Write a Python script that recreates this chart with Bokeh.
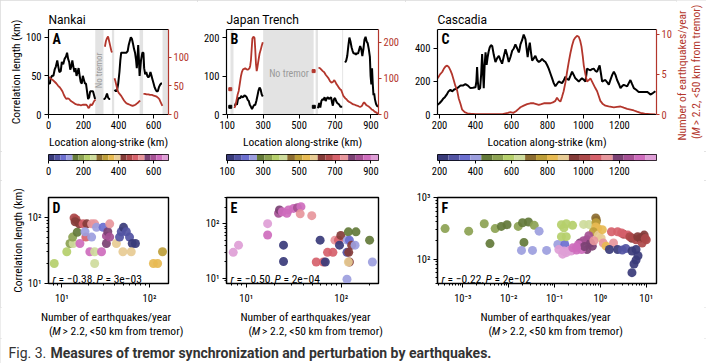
import math
import numpy as np
from bokeh.plotting import figure
from bokeh.models import (Range1d, LinearAxis, FixedTicker, BoxAnnotation, Label, Title,
                          LinearColorMapper, ColumnDataSource, CustomJSTickFormatter)
from bokeh.layouts import row, column
from bokeh.palettes import Category20b_20
from bokeh.embed import file_html
from bokeh.resources import INLINE

N = float("nan")

# ------------------------------------------------------------------ data
region_titles = ["Nankai", "Japan Trench", "Cascadia"]
panel_letters = ["A", "B", "C", "D", "E", "F"]

# Nankai (panel A)
nk_corr_km = [0, 8, 12, 20, 28, 35, 42, 50, 56, 62, 70, 76, 84, 92, 100, 106, 112, 118, 124, 130,
              136, 142, 148, 154, 160, 166, 172, 178, 184, 190, 196, 202, 208, 214, 220, 226, 232, 238,
              246, 254, 260, 266, N,
              314, 320, 326, 334, 340, 346, 352, N,
              377, 385, 392, 398, 405, 410, 415, 425, 435, 445, 452, 458, 464, 470, 476, 482, 488, 494,
              500, 504, 508, 512, 516, 520, 528, 536, 542, 546, 552, 558, 564, 570, 576, 582, 588, 594,
              600, 606, 612, 618, 624, 630, 636, 642, 648]
nk_corr = [40, 40, 47, 50, 50, 58, 62, 70, 62, 55, 56, 68, 65, 72, 75, 80, 72, 68, 58, 62,
           70, 62, 55, 60, 50, 55, 60, 50, 42, 40, 50, 45, 40, 40, 30, 20, 22, 30,
           30, 30, 25, 20, N,
           20, 20, 22, 27, 22, 20, 20, N,
           32, 30, 32, 40, 55, 70, 80, 80, 80, 80, 82, 90, 95, 100, 98, 92, 85, 80,
           70, 60, 72, 90, 72, 50, 70, 80, 80, 60, 52, 55, 50, 48, 50, 55, 50, 45,
           40, 35, 32, 30, 30, 35, 38, 40, 40]
nk_eq_km = [0, 8, 15, 25, 35, 45, 55, 65, 72, 80, 88, 95, 102, 110, 118, 126, 135, 145, 155, 165,
            175, 185, 195, 205, 215, 222, 228, 234, 240, 246, 252, 258, 264, 270, N,
            322, 328, 334, 340, 346, 352, 358, 362, N,
            377, 382, 388, 394, 400, 408, 416, 424, 432, 440, 448, 456, 464, 472, 480, 488, 496,
            504, 512, 518, 524, N,
            542, 550, 560, 570, 580, 590, 600, 610, 618, 626, 632, 638, 644, 650]
nk_eq = [65, 64, 62, 60, 57, 54, 50, 47, 44, 40, 34, 30, 27, 28, 27, 24, 22, 20, 18, 17,
         17, 16, 17, 17, 17, 15, 11, 13, 18, 16, 18, 22, 25, 25, N,
         118, 128, 133, 136, 128, 120, 112, 108, N,
         63, 58, 50, 42, 38, 35, 32, 28, 24, 21, 19, 18, 17, 16, 15, 16, 17,
         19, 21, 23, 24, N,
         36, 36, 35, 35, 34, 34, 33, 32, 31, 29, 27, 23, 19, 15]
nk_gaps = [(267, 314), (362, 375), (520, 540), (651, 690)]

# Japan Trench (panel B)
jt_corr_km = [142, 148, 154, 160, 166, 172, 178, 184, 190, 196, 202, 208, 214, 220, 226, 232, 238,
              244, 250, 256, 262, 268, 274, 280, 286, 292, 298, N,
              605, 612, 618, 624, 630, 636, 642, 648, 654, 660, 666, 672, 678, 684, 688, 694, 700,
              706, 712, 718, 724, 730, 736, 740, N,
              756, 762, 768, 774, 780, 786, 792, 798, 804, 810, 816, 822, 828, 834, 840, 846, 852,
              858, 864, 870, 876, 882, 888, 894, 898, 902, 906, 910, 914, 918, 922, 928, 934, 940]
jt_corr = [22, 30, 25, 40, 43, 42, 48, 45, 46, 50, 48, 45, 38, 35, 25, 20, 14,
           20, 25, 25, 35, 48, 62, 70, 65, 52, 47, N,
           16, 30, 18, 35, 40, 38, 45, 35, 42, 45, 40, 43, 45, 30, 23, 40, 43,
           35, 30, 28, 25, 20, 20, 20, N,
           135, 140, 152, 178, 200, 190, 175, 165, 158, 160, 155, 160, 158, 168, 178, 170, 152,
           170, 195, 202, 190, 185, 170, 150, 100, 78, 120, 80, 50, 55, 40, 28, 22, 20]
jt_eq_km = [140, 146, 152, 158, 164, 170, 176, 182, 188, 194, 200, 206, 212, 218, 224, 228, 232,
            236, 240, 246, 252, 256, 260, 264, 268, 274, 280, 286, 292, 298, N,
            608, 616, 624, 632, 640, 648, 656, 664, 672, 680, 688, 696, 702, 708, 714, 720, 728,
            734, 740, 746, 752, 758, 764, 770, 778, 786, 794, 802, 810, 818, 826, 834, 842, 850,
            856, 862, 868, 874, 880, 888, 896, 904, 912, 920, 928, 936, 942]
jt_eq = [18, 25, 40, 55, 65, 85, 105, 118, 125, 126, 128, 126, 124, 125, 128, 135, 150,
         180, 210, 215, 212, 180, 140, 120, 130, 150, 168, 178, 190, 200, N,
         130, 128, 124, 120, 117, 110, 105, 100, 92, 88, 90, 95, 90, 84, 80, 75, 70,
         68, 60, 52, 48, 44, 42, 38, 35, 33, 30, 28, 27, 25, 24, 22, 21, 24,
         30, 34, 30, 26, 24, 22, 18, 14, 12, 8, 6, 3, 2]
jt_corr_dot_km = [117, 582]
jt_corr_dot = [20, 20]
jt_eq_dot_km = [117, 581]
jt_eq_dot = [70, 120]
jt_gaps = [(118, 135), (300, 581), (592, 605), (740, 745)]

# Cascadia (panel C)
cs_corr_km = [190, 200, 210, 220, 230, 240, 250, 261, 270, 280, 290, 300, 317, 330, 344, 358, 372,
              386, 400, 405, 409, 413, 418, 426, 432, 437, 442, 446, 451, 456, 462, 468, 473, 479,
              486, 493, 502, 511, 520, 530, 539, 548, 557, 567, 576, 585, 595, 604, 613, 622, 632,
              641, 646, 650, 659, 668, 673, 678, 684, 690, 696, 702, 708, 715, 724, 733, 742, 752,
              761, 770, 780, 789, 798, 807, 816, 826, 835, 844, 853, 863, 872, 881, 890, 900, 909,
              918, 928, 937, 946, 955, 964, 974, 983, 992, 1002, 1011, 1016, 1020, 1030, 1039,
              1048, 1057, 1066, 1076, 1083, 1090, 1097, 1104, 1113, 1122, 1132, 1141, 1150, 1160,
              1169, 1178, 1187, 1197, 1206, 1215, 1224, 1234, 1243, 1252, 1261, 1270, 1280, 1293,
              1307, 1320, 1335, 1354, 1363, 1372, 1386, 1400]
cs_corr = [59, 68, 80, 95, 105, 120, 140, 150, 140, 150, 155, 160, 176, 175, 184, 175, 160,
           162, 165, 200, 288, 200, 151, 160, 250, 366, 250, 160, 300, 376, 300, 350, 380, 406,
           420, 415, 360, 318, 340, 356, 330, 308, 350, 396, 360, 318, 350, 386, 400, 425, 400,
           376, 400, 425, 450, 484, 470, 455, 400, 347, 400, 435, 380, 327, 340, 356, 330, 318,
           325, 337, 325, 318, 300, 278, 250, 219, 190, 171, 185, 200, 195, 190, 205, 229, 215,
           209, 235, 259, 240, 219, 210, 200, 210, 219, 210, 200, 240, 278, 272, 268,
           275, 278, 265, 259, 280, 298, 250, 200, 205, 209, 195, 180, 210, 240,
           259, 240, 209, 185, 160, 172, 180, 175, 171, 190, 209, 185, 160, 150,
           137, 137, 137, 137, 130, 121, 130, 141]
cs_eq_km = [190, 203, 215, 224, 234, 243, 252, 261, 270, 279, 288, 298, 307, 317, 326, 340, 355,
            372, 400, 450, 500, 550, 580, 594, 610, 625, 640, 650, 668, 687, 705, 724, 738, 752,
            766, 780, 798, 817, 830, 844, 853, 862, 872, 881, 890, 900, 909, 918, 928, 937, 946,
            955, 964, 974, 982, 989, 996, 1002, 1011, 1020, 1030, 1039, 1048, 1057, 1066, 1076,
            1085, 1094, 1108, 1122, 1140, 1155, 1169, 1187, 1206, 1224, 1243, 1262, 1280, 1298,
            1317, 1340, 1370, 1400]
cs_eq = [4.5, 5.0, 5.3, 5.7, 6.0, 6.1, 5.9, 5.5, 5.0, 4.3, 3.6, 3.0, 2.0, 1.3, 0.6, 0.3, 0.15,
         0.1, 0.05, 0.05, 0.05, 0.05, 0.2, 0.3, 0.2, 0.4, 0.7, 0.9, 1.1, 1.3, 1.4, 1.4, 1.3, 1.2,
         1.3, 1.4, 1.4, 1.4, 1.5, 1.7, 2.1, 1.8, 1.6, 2.2, 2.9, 4.0, 5.3, 6.5, 7.7, 8.6, 9.3,
         9.6, 9.8, 9.7, 9.2, 8.5, 7.3, 6.1, 5.0, 4.1, 4.3, 4.5, 4.1, 3.7, 3.3, 2.9,
         2.3, 1.7, 1.3, 1.1, 1.0, 0.95, 0.9, 0.95, 1.0, 0.85, 0.7, 0.6, 0.5, 0.35,
         0.2, 0.1, 0.05, 0.0]

# scatter panels: earthquake rate, correlation length, location (colour)
nk_rate = [8.2, 11.4, 12.4, 13.5, 13.3, 15.0, 16.1, 13.8, 14.5, 14.2, 15.8, 17.5, 19.3, 21.9, 23.7,
           18.8, 21.9, 18.4, 20.9, 23.7, 23.7, 28.4, 24.9, 29.6, 32.3, 33.5, 32.3, 35.2, 35.2, 42,
           45.6, 47.7, 50.6, 54.5, 59.3, 63.6, 69.2, 49.8, 62, 111, 124, 141]
nk_len = [20, 30, 40, 40, 50, 59, 40, 97, 92, 85, 79, 79, 79, 79, 79, 50, 50, 60, 30, 30, 20, 30,
          70, 70, 52, 60, 40, 79, 50, 40, 50, 60, 70, 60, 50, 40, 40, 30, 30, 20, 20, 30]
nk_loc = [223, 223, 188, 257, 188, 154, 634, 462, 462, 428, 428, 497, 428, 531, 531, 497, 120, 120,
          634, 257, 257, 634, 120, 86, 599, 565, 565, 531, 599, 394, 51, 51, 17, 51, 51, 17, 17,
          394, 394, 360, 360, 325]

jt_rate = [7.3, 8.3, 16.8, 16.8, 21.9, 22.4, 24, 26.8, 27.9, 31.5, 34.6, 37.7, 37, 49, 24.7, 24.7,
           60, 54.6, 65, 68, 71.8, 81.8, 86, 93.6, 99, 96, 116, 119, 122, 129, 140, 143, 115, 120,
           122, 119, 115, 199, 213]
jt_len = [30, 40.5, 62, 100, 155, 178, 165, 155, 178, 190, 195, 204, 151, 140, 40.5, 20.4, 50, 20,
          20, 20, 30, 30, 50, 50, 61, 40.5, 50, 71, 50, 40.5, 40.5, 71, 30, 30, 20, 20, 9.7, 50, 20]
jt_loc = [924, 924, 881, 924, 839, 797, 881, 881, 881, 881, 839, 881, 755, 755, 121, 121, 121, 712,
          712, 121, 712, 712, 755, 712, 628, 121, 248, 290, 206, 628, 248, 290, 163, 628, 628, 586,
          248, 290, 248]

cs_rate = [4.1e-4, 1.34e-3, 2.93e-3, 3.9e-3, 5.06e-3, 6.9e-3, 9.2e-3, 0.0161, 0.02, 0.027, 0.036,
           0.0215, 0.019, 0.033, 0.046, 0.067, 0.118, 0.167, 0.141, 0.16, 0.18, 0.247, 0.141, 0.18,
           0.18, 0.15, 0.23, 0.30,
           0.43, 0.56, 0.79, 0.82, 0.80, 0.79, 0.87, 0.70, 0.90, 1.04, 1.15, 1.33, 1.74, 2.37, 3.23,
           3.97, 4.87, 5.98, 7.35, 9.0, 10, 8.1, 1.93, 1.57, 2.37, 3.58, 4.87, 5.98, 6.6, 5.98, 5.4,
           4.87, 0.358, 0.43, 0.51, 0.61, 0.51, 0.39, 0.665, 0.124, 0.161, 0.21, 0.25, 0.33, 0.56,
           0.72, 2.9, 4.4, 6.5, 8.5, 9.5, 0.45, 0.30, 3.0, 1.1]
cs_len = [312, 284, 374, 178, 312, 339, 361, 339, 388, 400, 353, 186, 138, 138, 284, 138, 172, 172,
          361, 320, 375, 353, 231, 231, 127, 120, 135, 140,
          365, 365, 464, 422, 388, 331, 313, 277, 245, 218, 182, 162, 277, 277, 252, 245, 218, 205,
          218, 245, 205, 182, 182, 143, 143, 148, 135, 143, 113, 96, 83, 60, 182, 198, 205, 182,
          143, 143, 162, 143, 135, 138, 152, 171, 240, 198, 265, 230, 230, 225, 215, 160, 155, 140,
          300]
cs_loc = [531, 531, 531, 471, 531, 471, 471, 531, 471, 471, 531, 471, 411, 411, 411, 411, 411, 351,
          592, 592, 592, 592, 592, 592, 1375, 1375, 1375, 1314,
          652, 652, 712, 712, 772, 833, 833, 772, 893, 893, 1134, 833, 1073, 1073, 1013, 1073, 953,
          1013, 953, 953, 1013, 1013, 1134, 230, 230, 290, 230, 230, 230, 230, 230, 230, 1194,
          1254, 1254, 1194, 1194, 1314, 1194, 1375, 1375, 1375, 1314, 1314, 1254, 1134, 1073, 1013,
          953, 953, 1013, 1194, 1314, 290, 833]

stats_r = ["= \u22120.38,", "= \u22120.50,", "= \u22120.22,"]
stats_p = ["= 3e\u221203", "= 2e\u221204", "= 2e\u221202"]
eq_title_1 = "Number of earthquakes/year"
eq_title_2 = ["(", "M", "> 2.2, <50 km from tremor)"]

# ------------------------------------------------------------------ styling helpers
NARROW = "Liberation Sans Narrow, Roboto Condensed, Arial Narrow, sans-serif"
PLAIN = "Roboto, Liberation Sans, sans-serif"
RED = "#b3362c"
BAND = "#e3e3e3"
PALETTE = list(Category20b_20)
TOP_COLS = [(197, 48, 29), (208, 29, 27), (271, 32, 20)]
LOW_COLS = [(197, 48, 29), (208, 29, 27), (301, 32, 50)]
TITLE_SIZE = "11.5px"

SUP_JS = """
const digits = "\u2070\u00b9\u00b2\u00b3\u2074\u2075\u2076\u2077\u2078\u2079";
const e = Math.round(Math.log10(tick));
let s = "";
for (const c of String(Math.abs(e))) { s += digits[parseInt(c)]; }
return "10" + (e < 0 ? "\u207b" : "") + s;
"""


def new_fig(col, h, bt, bb, **kw):
    w, bl, br = col
    p = figure(width=w, height=h, min_border_left=bl, min_border_right=br,
               min_border_top=bt, min_border_bottom=bb, title=None,
               toolbar_location=None, tools="", output_backend="svg", **kw)
    p.grid.visible = False
    p.background_fill_color = "white"
    p.border_fill_color = "white"
    return p


def text_strip(w, h):
    p = figure(width=w, height=h, min_border=0, x_range=Range1d(0, 1), y_range=Range1d(0, 1),
               x_axis_location=None, y_axis_location=None, title=None,
               toolbar_location=None, tools="", output_backend="svg")
    p.outline_line_color = None
    p.grid.visible = False
    p.background_fill_color = "white"
    p.border_fill_color = "white"
    return p


def style_axis(ax, color="black", tick_out=4, standoff=2):
    ax.axis_line_color = color
    ax.axis_line_width = 1.2
    ax.major_tick_line_color = color
    ax.minor_tick_line_color = color
    ax.major_tick_out = tick_out
    ax.major_tick_in = 0
    ax.minor_tick_out = 2 if tick_out else 0
    ax.minor_tick_in = 0
    ax.major_label_standoff = standoff
    ax.major_label_text_font = NARROW
    ax.major_label_text_font_size = "10.5px"
    ax.major_label_text_color = color
    ax.axis_label_text_font = NARROW
    ax.axis_label_text_font_size = TITLE_SIZE
    ax.axis_label_text_font_style = "normal"
    ax.axis_label_text_color = color
    ax.axis_label_standoff = 3


def label(p, x, y, text, size=TITLE_SIZE, font=NARROW, style="normal", color="black",
          align="left", baseline="alphabetic", angle=0.0, x_units="screen"):
    p.add_layout(Label(x=x, y=y, x_units=x_units, y_units="screen", text=text,
                       text_font=font, text_font_size=size, text_font_style=style,
                       text_color=color, text_align=align, text_baseline=baseline,
                       angle=angle))


def top_panel(i, xr, yl, yr, xticks, ylticks, yrticks, gaps, bx, by, rx, ry,
              dots=None, ylabel=None):
    p = new_fig(TOP_COLS[i], 151, 29, 34, x_range=Range1d(*xr), y_range=Range1d(0, yl))
    p.title = Title(text=region_titles[i], align="left", offset=0, standoff=5,
                    text_font=PLAIN, text_font_size="12px", text_font_style="normal",
                    text_color="black")
    p.outline_line_color = None
    p.extra_y_ranges = {"eq": Range1d(0, yr)}
    for a, b in gaps:
        p.add_layout(BoxAnnotation(left=a, right=b, fill_color=BAND, fill_alpha=1.0,
                                   line_color=None, level="underlay"))
    p.line(bx, by, line_color="black", line_width=2)
    p.line(rx, ry, line_color=RED, line_width=1.8, y_range_name="eq")
    if dots:
        p.scatter(dots[0], dots[1], marker="square", size=3, color="black")
        p.scatter(dots[2], dots[3], marker="square", size=3, color=RED, y_range_name="eq")
    xa = p.xaxis[0]
    xa.ticker = FixedTicker(ticks=xticks, minor_ticks=[])
    xa.axis_label = "Location along-strike (km)"
    style_axis(xa)
    ya = p.yaxis[0]
    ya.ticker = FixedTicker(ticks=ylticks, minor_ticks=[])
    style_axis(ya, standoff=3)
    if ylabel:
        ya.axis_label = ylabel
        ya.axis_label_standoff = 0
    ra = LinearAxis(y_range_name="eq", ticker=FixedTicker(ticks=yrticks, minor_ticks=[]))
    style_axis(ra, RED, tick_out=3, standoff=2)
    p.add_layout(ra, "right")
    ta = LinearAxis(ticker=FixedTicker(ticks=[], minor_ticks=[]))
    style_axis(ta, tick_out=0, standoff=0)
    p.add_layout(ta, "above")
    label(p, 4, 84, panel_letters[i], size="14px", style="bold", baseline="top")
    return p


def cbar(i, xr, ticks):
    p = new_fig(LOW_COLS[i], 29, 3, 20, x_range=xr, y_range=Range1d(0, 1), y_axis_location=None)
    edges = np.linspace(xr.start, xr.end, len(PALETTE) + 1)
    p.quad(left=edges[:-1], right=edges[1:], bottom=0, top=1, fill_color=PALETTE, line_color=None)
    p.outline_line_color = "black"
    p.outline_line_width = 1
    xa = p.xaxis[0]
    xa.ticker = FixedTicker(ticks=ticks, minor_ticks=[])
    style_axis(xa, tick_out=3, standoff=3)
    xa.axis_line_color = None
    return p


def decade_ticks(lo, hi):
    majors = [10.0 ** e for e in range(lo, hi + 1)]
    minors = [m * 10.0 ** e for e in range(lo - 1, hi + 1) for m in range(2, 10)]
    return FixedTicker(ticks=majors, minor_ticks=minors)


def bottom_panel(i, xr, yr, xdec, ydec, xs, ys, locs, cmap_range, ylabel=None):
    k = i - 3
    p = new_fig(LOW_COLS[k], 127, 17, 22, x_axis_type="log", y_axis_type="log",
                x_range=Range1d(*xr), y_range=Range1d(*yr))
    p.outline_line_color = "black"
    p.outline_line_width = 1.4
    mapper = LinearColorMapper(palette=PALETTE, low=cmap_range[0], high=cmap_range[1])
    src = ColumnDataSource(dict(x=xs, y=ys, loc=locs))
    p.scatter("x", "y", source=src, size=9, line_color=None, fill_alpha=0.92,
              fill_color={"field": "loc", "transform": mapper})
    xa, ya = p.xaxis[0], p.yaxis[0]
    xa.ticker = decade_ticks(*xdec)
    ya.ticker = decade_ticks(*ydec)
    for ax in (xa, ya):
        ax.formatter = CustomJSTickFormatter(code=SUP_JS)
    style_axis(xa, standoff=4)
    style_axis(ya, standoff=3)
    if ylabel:
        ya.axis_label = ylabel
        ya.axis_label_standoff = 0
    label(p, 4, 84, panel_letters[i], size="14px", style="bold", baseline="top")
    label(p, 4, 4.5, "r", size="11.5px", style="italic")
    label(p, 10, 4.5, stats_r[k], size="11.5px")
    label(p, 48, 4.5, "P", size="11.5px", style="italic")
    label(p, 57, 4.5, stats_p[k], size="11.5px")
    return p


# ------------------------------------------------------------------ top row
pA = top_panel(0, (0, 685), 110, 148, [0, 200, 400, 600], [0, 50, 100], [0, 50, 100],
               nk_gaps, nk_corr_km, nk_corr, nk_eq_km, nk_eq, ylabel="Correlation length (km)")
label(pA, 290, 44, "No tremor", size="9px", color="#9a9a9a", align="center",
      baseline="middle", angle=math.pi / 2, x_units="data")

pB = top_panel(1, (96, 942), 221, 235, [100, 300, 500, 700, 900], [0, 100, 200], [0, 100, 200],
               jt_gaps, jt_corr_km, jt_corr, jt_eq_km, jt_eq,
               dots=(jt_corr_dot_km, jt_corr_dot, jt_eq_dot_km, jt_eq_dot))
label(pB, 444, 40.6, "No tremor", size="10px", color="#9a9a9a", align="center",
      baseline="middle", x_units="data")

pC = top_panel(2, (189, 1406), 515, 10.6, [200, 400, 600, 800, 1000, 1200], [0, 200, 400],
               [0, 5, 10], [], cs_corr_km, cs_corr, cs_eq_km, cs_eq)

# right-hand (red) title of panel C
rtitle = text_strip(30, 151)
label(rtitle, 5.2, 76, eq_title_1, color=RED, align="center", baseline="middle",
      angle=math.pi / 2)
for piece, dy, st in zip(eq_title_2, [12.5, 15.7, 26.2], ["normal", "italic", "normal"]):
    label(rtitle, 19.7, dy, piece, color=RED, style=st, baseline="middle", angle=math.pi / 2)

# ------------------------------------------------------------------ colour bars
cA = cbar(0, pA.x_range, [0, 200, 400, 600])
cB = cbar(1, pB.x_range, [100, 300, 500, 700, 900])
cC = cbar(2, pC.x_range, [200, 400, 600, 800, 1000, 1200])

# ------------------------------------------------------------------ bottom row
pD = bottom_panel(3, (7.05, 165), (10, 197), (1, 2), (1, 2), nk_rate, nk_len, nk_loc,
                  (0, 685), ylabel="Correlation length (km)")
pE = bottom_panel(4, (6.2, 247), (8.1, 300), (1, 2), (1, 2), jt_rate, jt_len, jt_loc,
                  (96, 942))
pF = bottom_panel(5, (2.8e-4, 16.7), (40, 1000), (-3, 1), (2, 3), cs_rate, cs_len, cs_loc,
                  (189, 1406))

# two-line x titles under the scatter panels
xtitles = text_strip(706, 31)
for c in [105.5, 305, 545]:
    label(xtitles, c, 21.3, eq_title_1, align="center", baseline="middle")
    s = c - 57
    for piece, dx, st in zip(eq_title_2, [0, 3.2, 13.6], ["normal", "italic", "normal"]):
        label(xtitles, s + dx, 7.8, piece, style=st, baseline="middle")

# ------------------------------------------------------------------ caption
cap = text_strip(706, 25)
label(cap, 8, 11, "Fig. 3.", size="14px", font=PLAIN, color="#333333", baseline="middle")
label(cap, 50, 11, "Measures of tremor synchronization and perturbation by earthquakes.",
      size="14px", font=PLAIN, style="bold", color="#333333", baseline="middle")

layout = column(
    row(row(pA, pB, pC), column(rtitle)),
    row(cA, cB, cC),
    row(pD, pE, pF),
    xtitles,
    cap,
    styles={"outline": "2px solid #dadada", "outline-offset": "-2px"},
)

open("out.html", "w", encoding="utf-8").write(file_html(layout, INLINE))
